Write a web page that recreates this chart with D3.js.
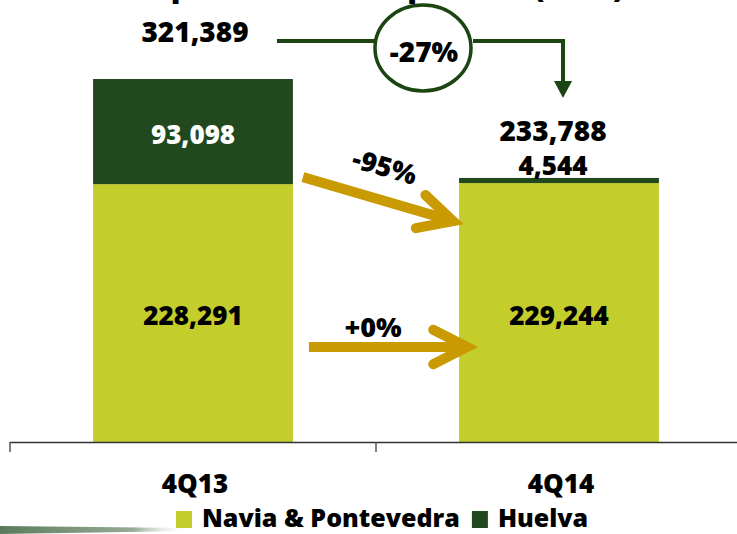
<!DOCTYPE html>
<html>
<head>
<meta charset="utf-8">
<script src="https://cdn.jsdelivr.net/npm/d3@7"></script>
<style>
  body { margin: 0; background: white; }
  svg { display: block; }
  text { font-family: 'Open Sans', sans-serif; font-weight: 800; }
</style>
</head>
<body>
<script>
// data
const categories = ['4Q13', '4Q14']
const seriesNames = ['Navia & Pontevedra', 'Huelva']
const naviaValues = [228291, 229244]
const huelvaValues = [93098, 4544]
const seriesColors = ['#c3cd2b', '#21491d']
const totalChange = '-27%'
const seriesChanges = ['+0%', '-95%']
const titleText = 'Pulp sales volume per mill (tons)'

let width = 737
let height = 534
let gold = '#c99a02'
let darkGreen = '#1b4611'
let fmt = d3.format(',')

let svg = d3.select('body').append('svg')
            .attr('width', width)
            .attr('height', height)

svg.append('rect')
    .attr('width', '100%')
    .attr('height', '100%')
    .attr('fill', 'white')

let rows = categories.map((c, i) => ({ cat: c, navia: naviaValues[i], huelva: huelvaValues[i] }))
let stacked = d3.stack().keys(['navia', 'huelva'])(rows)
let totals = rows.map(r => r.navia + r.huelva)

let x = d3.scaleBand()
            .domain(categories)
            .range([10, 742])
let barWidth = x.bandwidth() * 0.546
let barX = cat => x(cat) + (x.bandwidth() - barWidth) / 2
let barCenter = cat => x(cat) + x.bandwidth() / 2

let y = d3.scaleLinear()
            .domain([0, d3.max(totals)])
            .range([442, 79])

// title (cut off at the top of the slide, as in the source)
svg.append('text')
    .attr('x', 122)
    .attr('y', -3)
    .attr('font-size', '30px')
    .attr('fill', 'black')
    .text(titleText)

// bars
let layers = svg.selectAll('g.layer')
                .data(stacked)
                .join('g')
                .attr('class', 'layer')
                .attr('fill', (d, i) => seriesColors[i])

layers.selectAll('rect')
    .data(d => d)
    .join('rect')
    .attr('x', d => barX(d.data.cat))
    .attr('y', d => y(d[1]))
    .attr('width', barWidth)
    .attr('height', d => y(d[0]) - y(d[1]))

// segment labels
stacked.forEach((layer, li) => {
    layer.forEach(d => {
        let h = y(d[0]) - y(d[1])
        let inside = h > 30
        svg.append('text')
            .attr('x', barCenter(d.data.cat) - (inside ? 0 : 6))
            .attr('y', inside ? (y(d[0]) + y(d[1])) / 2 + 12 : y(d[1]) - 3)
            .attr('text-anchor', 'middle')
            .attr('font-size', '26px')
            .attr('fill', inside && li === 1 ? 'white' : 'black')
            .text(fmt(d[1] - d[0]))
    })
})

// totals
categories.forEach((c, i) => {
    svg.append('text')
        .attr('x', barCenter(c) - (i === 1 ? 6 : -2))
        .attr('y', y(totals[i]) - 37)
        .attr('text-anchor', 'middle')
        .attr('font-size', '28px')
        .attr('fill', 'black')
        .text(fmt(totals[i]))
})

// axis
svg.append('line')
    .attr('x1', x.range()[0])
    .attr('y1', y(0) + 0.5)
    .attr('x2', width)
    .attr('y2', y(0) + 0.5)
    .attr('stroke', '#333')
    .attr('stroke-width', 1.5)

categories.forEach(c => {
    svg.append('line')
        .attr('x1', x(c))
        .attr('y1', y(0))
        .attr('x2', x(c))
        .attr('y2', y(0) + 10)
        .attr('stroke', '#555')
        .attr('stroke-width', 1.5)

    svg.append('text')
        .attr('x', barCenter(c) + 2)
        .attr('y', 493)
        .attr('text-anchor', 'middle')
        .attr('font-size', '26px')
        .attr('fill', 'black')
        .text(c)
})

// total change connector with circle
let leftEnd = barCenter(categories[0])
let rightEnd = barCenter(categories[1])
let lineY = 41
let circle = { cx: 423, cy: 48, rx: 48, ry: 43 }

svg.append('line')
    .attr('x1', leftEnd + 84)
    .attr('y1', lineY)
    .attr('x2', circle.cx - circle.rx + 2)
    .attr('y2', lineY)
    .attr('stroke', darkGreen)
    .attr('stroke-width', 4)

svg.append('path')
    .attr('d', `M${circle.cx + circle.rx + 2},${lineY} H${rightEnd + 4} V${y(totals[1]) - 96}`)
    .attr('fill', 'none')
    .attr('stroke', darkGreen)
    .attr('stroke-width', 4)

svg.append('path')
    .attr('d', `M${rightEnd - 5},${y(totals[1]) - 97} L${rightEnd + 13},${y(totals[1]) - 97} L${rightEnd + 4},${y(totals[1]) - 80} Z`)
    .attr('fill', darkGreen)

svg.append('ellipse')
    .attr('cx', circle.cx)
    .attr('cy', circle.cy)
    .attr('rx', circle.rx)
    .attr('ry', circle.ry)
    .attr('fill', 'none')
    .attr('stroke', darkGreen)
    .attr('stroke-width', 3.5)

svg.append('text')
    .attr('x', circle.cx + 1)
    .attr('y', circle.cy + 14)
    .attr('text-anchor', 'middle')
    .attr('font-size', '28px')
    .attr('fill', 'black')
    .text(totalChange)

// gold arrows for each series
function drawGoldArrow(x1, y1, x2, y2, label, lx, ly) {
    let g = svg.append('g')
    let ang = Math.atan2(y2 - y1, x2 - x1)
    let armLen = 38
    let spread = 27 * Math.PI / 180
    let a1 = [x2 - armLen * Math.cos(ang - spread), y2 - armLen * Math.sin(ang - spread)]
    let a2 = [x2 - armLen * Math.cos(ang + spread), y2 - armLen * Math.sin(ang + spread)]

    g.append('line')
        .attr('x1', x1)
        .attr('y1', y1)
        .attr('x2', x2 - 6 * Math.cos(ang))
        .attr('y2', y2 - 6 * Math.sin(ang))
        .attr('stroke', gold)
        .attr('stroke-width', 10)

    g.append('path')
        .attr('d', `M${a1[0]},${a1[1]} L${x2},${y2} L${a2[0]},${a2[1]}`)
        .attr('fill', 'none')
        .attr('stroke', gold)
        .attr('stroke-width', 10)
        .attr('stroke-linecap', 'round')
        .attr('stroke-linejoin', 'miter')

    g.append('text')
        .attr('transform', `translate(${lx},${ly}) rotate(${ang * 180 / Math.PI})`)
        .attr('text-anchor', 'middle')
        .attr('font-size', '27px')
        .attr('fill', 'black')
        .text(label)
}

let bar1Right = barX(categories[0]) + barWidth
let bar2Left = barX(categories[1])

drawGoldArrow(bar1Right + 10, y(naviaValues[0]) - 7, bar2Left - 6, y(naviaValues[1]) + 38, seriesChanges[1], 382, 176)
drawGoldArrow(bar1Right + 16, y(naviaValues[0] / 2) + 34, bar2Left + 8, y(naviaValues[0] / 2) + 34, seriesChanges[0], 373, 337)

// legend
let legend = svg.append('g')
let lx = 176
seriesNames.forEach((name, i) => {
    legend.append('rect')
        .attr('x', lx)
        .attr('y', 511)
        .attr('width', 16)
        .attr('height', 17)
        .attr('fill', seriesColors[i])

    let t = legend.append('text')
                .attr('x', lx + 26)
                .attr('y', 527)
                .attr('font-size', '25px')
                .attr('fill', 'black')
                .text(name)

    lx += 26 + t.node().getComputedTextLength() + 12
})

// slide decoration at the bottom left
let defs = svg.append('defs')
let grad = defs.append('linearGradient')
                .attr('id', 'fade')
grad.append('stop').attr('offset', '0%').attr('stop-color', '#5b7a5b').attr('stop-opacity', 1)
grad.append('stop').attr('offset', '70%').attr('stop-color', '#7a947a').attr('stop-opacity', 0.8)
grad.append('stop').attr('offset', '100%').attr('stop-color', '#ffffff').attr('stop-opacity', 0)

svg.insert('path', 'g.layer')
    .attr('d', 'M0,526 L190,528 L190,531 L0,534 Z')
    .attr('fill', 'url(#fade)')
</script>
</body>
</html>
